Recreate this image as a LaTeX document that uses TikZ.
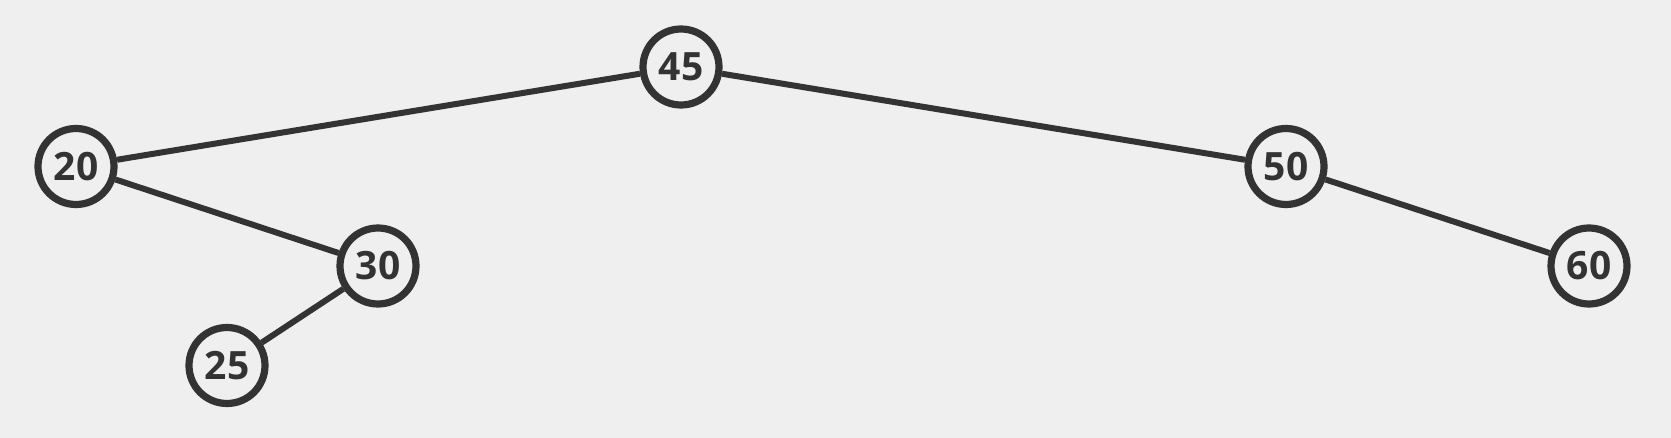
\documentclass[tikz,border=0pt]{standalone}
\usepackage{fontspec}
\setmainfont{Open Sans}
\usepackage{tikz}
\usetikzlibrary{positioning}
\definecolor{bgcol}{HTML}{EFEFEF}
\definecolor{inkcol}{HTML}{333333}
\tikzstyle{line} = [draw=inkcol, line width=3pt]

\begin{document}
\begin{tikzpicture}[x=0.5pt,y=-0.5pt,
 item/.style={circle,draw=inkcol,fill=bgcol,line width=3.6pt,text=inkcol,
  inner sep=0pt,minimum size=38pt,font=\fontsize{19.5}{20}\selectfont\bfseries}]
 \fill[bgcol] (0,0) rectangle (1671,438);
 \node[item] (n45) at (681,67) {45};
 \node[item] (n20) at (76,166.5) {20};
 \node[item] (n50) at (1286,166.5) {50};
 \node[item] (n30) at (378,266) {30};
 \node[item] (n60) at (1589,266) {60};
 \node[item] (n25) at (227,365.5) {25};

 \path[line] (n45) -- (n20);
 \path[line] (n45) -- (n50);
 \path[line] (n20) -- (n30);
 \path[line] (n30) -- (n25);
 \path[line] (n50) -- (n60);
\end{tikzpicture}
\end{document}
